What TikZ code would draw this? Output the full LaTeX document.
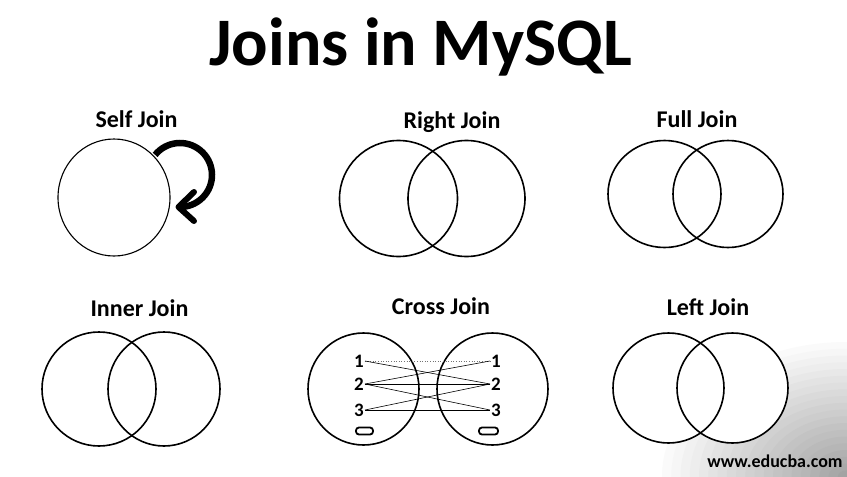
\documentclass[tikz,border=0pt]{standalone}
\usepackage{fontspec}
\setmainfont{Carlito}
\begin{document}
\begin{tikzpicture}[x=1pt,y=-1pt,
  lbl/.style={anchor=base, font=\bfseries\fontsize{24}{28}\selectfont},
  venn/.style={draw=black, line width=1.6pt},
  digit/.style={font=\bfseries\fontsize{19}{20}\selectfont, inner sep=1pt},
  link/.style={draw=black, line width=0.6pt},
  tag/.style={draw=black, line width=1.8pt, rounded corners=3pt, fill=white}]
\useasboundingbox (0,0) rectangle (847,477);
\fill[white] (0,0) rectangle (847,477);
% watermark background
\begin{scope}
  \clip (0,0) rectangle (847,477);
  \foreach \k in {1,...,20} {
    \pgfmathsetmacro\rf{(21-\k)/20}
    \pgfmathsetmacro\gv{1.8*\k}
    \fill[black!\gv] (847,477) ellipse ({\rf*185} and {\rf*135});
  }
\end{scope}
% title
\node[anchor=base, font=\bfseries\fontsize{68}{80}\selectfont] (title) at (420.5,65) {Joins in MySQL};
% labels
\node[lbl] (lself) at (136.5,127) {Self Join};
\node[lbl] (lright) at (452,128) {Right Join};
\node[lbl] (lfull) at (697,127) {Full Join};
\node[lbl] (linner) at (139.5,316) {Inner Join};
\node[lbl] (lcross) at (441,314) {Cross Join};
\node[lbl] (lleft) at (708,315) {Left Join};
% self join
\draw[line width=1.1pt] (114,197.5) ellipse (56 and 58.5);
\draw[line width=6.5pt] (180,175) ++(219:32) arc[start angle=219, end angle=447, radius=32];
\draw[line width=6pt, line cap=round, line join=round] (194,192) -- (178.5,207) -- (194,221);
% right join
\draw[venn] (398.5,198.5) ellipse (59 and 58);
\draw[venn] (466.5,198.5) ellipse (58.5 and 58);
% full join
\draw[venn] (664.5,194) ellipse (56.5 and 53.5);
\draw[venn] (728,194) ellipse (55 and 53.5);
% inner join
\draw[venn] (99,389) ellipse (57 and 57);
\draw[venn] (164,389) ellipse (56 and 57);
% left join
\fill[white] (668.5,388) ellipse (55.5 and 55);
\fill[white] (732.5,388) ellipse (55.5 and 55);
\draw[venn] (668.5,388) ellipse (55.5 and 55);
\draw[venn] (732.5,388) ellipse (55.5 and 55);
% cross join
\draw[venn] (363.5,389) ellipse (55.5 and 56);
\draw[venn] (492.5,389) ellipse (55.5 and 56);
\node[digit] (l1) at (359,361) {1};
\node[digit] (l2) at (359,384) {2};
\node[digit] (l3) at (359,410) {3};
\node[digit] (r1) at (496,361) {1};
\node[digit] (r2) at (496,384) {2};
\node[digit] (r3) at (496,410) {3};
\draw[link, draw=black!55, dotted] (l1.east) -- (r1.west);
\draw[link] (l1.east) -- (r2.west);
\draw[link] (l2.east) -- (r1.west);
\draw[link] (l2.east) -- (r2.west);
\draw[link] (l2.east) -- (r3.west);
\draw[link] (l3.east) -- (r2.west);
\draw[link] (l3.east) -- (r3.west);
\node[tag, minimum width=17pt, minimum height=7pt, inner sep=0pt] (tl) at (364.5,431) {};
\node[tag, minimum width=19pt, minimum height=7pt, inner sep=0pt] (tr) at (488.5,431) {};
% watermark text
\node[anchor=base, font=\bfseries\fontsize{18}{20}\selectfont] (wm) at (775,467) {www.educba.com};
\end{tikzpicture}
\end{document}
